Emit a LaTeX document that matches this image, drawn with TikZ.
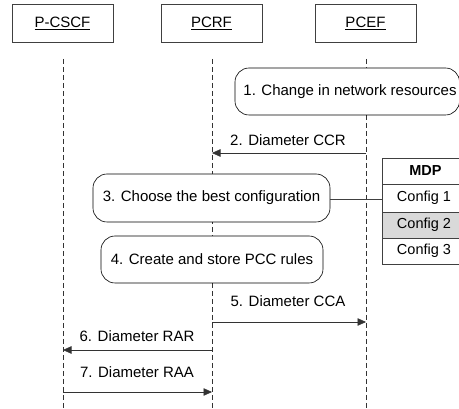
\documentclass[tikz,border=0pt]{standalone}
\usepackage{fontspec}
\setmainfont{Liberation Sans}
\usetikzlibrary{arrows.meta}
\begin{document}
\begin{tikzpicture}[x=1pt,y=-1pt,
  every node/.style={font=\fontsize{15}{18}\selectfont, inner sep=0pt},
  tabtext/.style={font=\fontsize{14.5}{17}\selectfont},
  actor/.style={draw=black!75, line width=0.6pt, minimum width=101pt, minimum height=38pt},
  life/.style={draw=black!80, line width=0.6pt, dash pattern=on 5pt off 3pt},
  act/.style={draw=black, line width=0.6pt, rounded corners=14pt},
  msg/.style={draw=black!80, line width=0.6pt, -{Triangle[length=8.5pt,width=7.5pt]}},
  cell/.style={draw=black!75, line width=0.6pt}]
\useasboundingbox (0,0) rectangle (459,409);
% actors
\node[actor] (pcscf) at (62.5,23) {\underline{P-CSCF}};
\node[actor] (pcrf) at (211.5,23) {\underline{PCRF}};
\node[actor] (pcef) at (365.5,23) {\underline{PCEF}};
% lifeline ends
\coordinate (a0) at (63,59); \coordinate (a1) at (63,409);
\coordinate (b0) at (212,59); \coordinate (b1) at (212,409);
\coordinate (c0) at (366,59); \coordinate (c1) at (366,409);
\draw[life] (a0) -- (a1);
\draw[life] (b0) -- (b1);
\draw[life] (c0) -- (c1);
% action boxes
\draw[act, fill=white] (235,68) rectangle (459.5,115);
\node (s1) at (350,91.5) {1. Change in network resources};
\draw[act, fill=white] (93,174) rectangle (330,222);
\node (s3) at (211.5,198) {3. Choose the best configuration};
\draw[act, fill=white] (101,236) rectangle (323,283);
\node (s4) at (212,259.5) {4. Create and store PCC rules};
% messages
\coordinate (m2a) at (366,153); \coordinate (m2b) at (212,153);
\draw[msg] (m2a) -- (m2b);
\node (l2) at (288,140) {2. Diameter CCR};
\coordinate (m5a) at (212,322); \coordinate (m5b) at (366,322);
\draw[msg] (m5a) -- (m5b);
\node (l5) at (288,301) {5. Diameter CCA};
\coordinate (m6a) at (212,350); \coordinate (m6b) at (63,350);
\draw[msg] (m6a) -- (m6b);
\node (l6) at (137,336) {6. Diameter RAR};
\coordinate (m7a) at (63,392); \coordinate (m7b) at (212,392);
\draw[msg] (m7a) -- (m7b);
\node (l7) at (137,372) {7. Diameter RAA};
% MDP table
\draw[cell, fill=black!15] (382,212) rectangle (462,238);
\draw[cell] (382,158) rectangle (462,264);
\draw[cell] (382,184) -- (462,184);
\draw[cell] (382,238) -- (462,238);
\node[tabtext] (mdp) at (425.5,171) {\textbf{MDP}};
\node[tabtext] (cf1) at (424,198) {Config 1};
\node[tabtext] (cf2) at (424,225) {Config 2};
\node[tabtext] (cf3) at (424,251) {Config 3};
\coordinate (tl) at (382,199); \coordinate (sr) at (330,199);
\draw[draw=black!75, line width=0.6pt] (sr) -- (tl);
\end{tikzpicture}
\end{document}
